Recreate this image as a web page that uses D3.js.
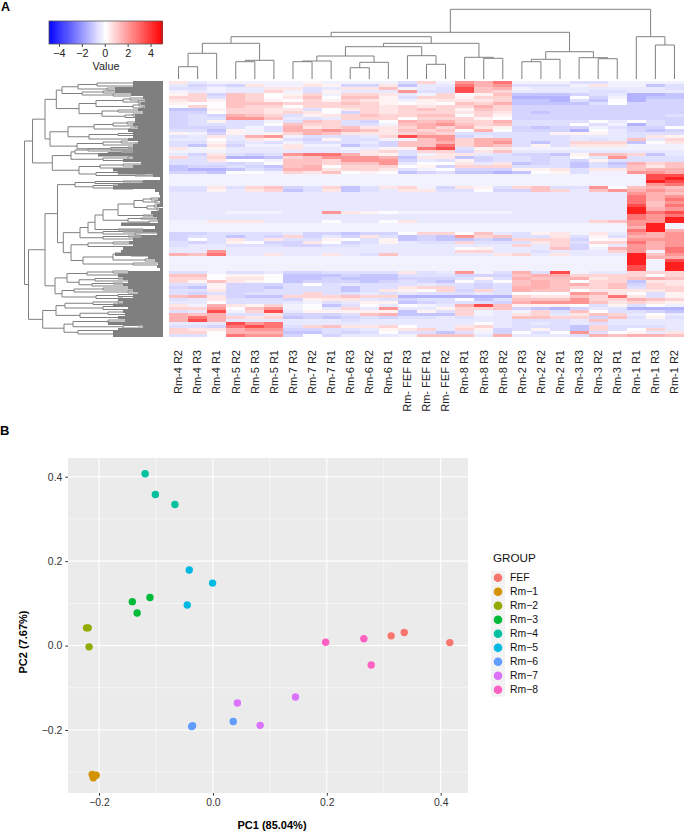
<!DOCTYPE html>
<html>
<head>
<meta charset="utf-8">
<script src="https://cdn.jsdelivr.net/npm/d3@7"></script>
<style>
html,body{margin:0;padding:0;background:#fff;}
svg{display:block;font-family:"Liberation Sans",Arial,sans-serif;}
</style>
</head>
<body>
<div id="chart"></div>
<script>
// ---------- Panel A data ----------
const columnLabels = ["Rm-4 R2","Rm-4 R3","Rm-4 R1","Rm-5 R2","Rm-5 R3","Rm-5 R1","Rm-7 R3","Rm-7 R2","Rm-7 R1","Rm-6 R3","Rm-6 R2","Rm-6 R1","Rm- FEF R3","Rm- FEF R1","Rm- FEF R2","Rm-8 R1","Rm-8 R3","Rm-8 R2","Rm-2 R3","Rm-2 R2","Rm-2 R1","Rm-3 R3","Rm-3 R2","Rm-3 R1","Rm-1 R1","Rm-1 R3","Rm-1 R2"];
const levelCodes  = ["n","m","l","k","j","i","0","1","2","3","4","5","6","7","8","9"];
const levelValues = [-1.5,-1.15,-0.85,-0.62,-0.45,-0.25,-0.03,0.25,0.5,0.85,1.2,1.55,2.05,2.7,3.5,4.4];
const heatRows = [
"2ji iii i1i iii k3i 657 iii kki iii",
"jlk l2i i21 ll2 mjj 756 kkk i2i imk",
"kki jj2 2kj 224 ijk 845 ijj jjj jjk",
"iji jj3 ik1 jjj 6kk 843 jjj jkk jjj",
"13l 430 13i 332 ji3 014 mmm lkj nnm",
"33k 430 240 441 k33 133 nnn 0li nmm",
"231 431 031 321 i12 223 mmn km0 nll",
"100 444 333 431 010 435 mmm mk0 lll",
"030 433 033 332 323 353 lll lll lll",
"mm1 332 2k0 232 343 143 lll lll lll",
"ll0 332 320 l32 333 232 lml lll lll",
"lkl 543 k12 343 344 031 lll lll llk",
"lkk 664 jkj 333 033 310 lll lll lll",
"lk1 kki k43 kl0 545 335 kkk k0j 0kl",
"lkk kk0 433 kki 456 434 kkk 0ki nkl",
"lll kik 523 422 353 521 lml lik ll0",
"kkm 1ik 556 542 434 050 lll n0j lml",
"1il 1i1 354 222 343 kkk kk1 11j kkk",
"kj2 j56 ikk kj3 866 ljk kkk jjj k21",
"jj0 j21 kl1 kki i46 355 kkk jkj 4j3",
"kk1 kjk ikk kjl 445 356 kmk 333 m02",
"km2 lii 2ii mkl 447 354 k1k 222 iii",
"2i1 jjj 2jj ij1 178 k12 iii iii iii",
"iii jjj jjj j23 k33 l24 jjj jjj jjj",
"jl2 klk 677 521 ki2 2jk llm 144 3mj",
"3k3 nnm 346 665 m22 mlk klk 0j6 kkk",
"kk2 00i 443 666 ljk 1lk klk l1k kkk",
"kkk lk0 443 446 j00 2j2 mlk mkm 534",
"mll klm 450 333 01l 333 kkk mkl 424",
"mnn mkl 552 332 ki0 lll 112 k22 455",
"llm 00i 324 010 mlk mmn m01 kii 665",
"iii iii iii iii iii iii iii iii i88",
"iii iii iii iii iii iii iii iii i89",
"iii iii iii iii iii iii iii iii i98",
"iii iii iii iii iii iii iii iii i67",
"kk2 k34 lk3 mk2 3il 21k 34k k60 454",
"kk1 j23 mk2 mkj 22k k0l l43 j46 565",
"jjj jjj jjj jjj jjj jjj jjj jjj 654",
"jjj jjj jjj jjj jjj jjj jjj jjj 756",
"jjj jjj jjj jjj jjj jjj jjj jjj 757",
"jjj jjj jjj jjj jjj jjj jjj jjj 746",
"jjj jjj jjj jjj jjj jjj jjj jjj 847",
"jjj jjj jjj jjj jjj jjj jjj jjj 956",
"jjj iii jj6 210 iii iii jjj jjj 978",
"jjj jjj jjj jjj jjj jjj jjj jjj 767",
"jjj jjj jjj jjj jjj jjj jjj jjj 769",
"ii2 22j jj0 jj0 2jj jjj jjj j34 669",
"iii iii iii iii iii iii iii iii 69i",
"iii iii iii iii iii iii iii iii 59i",
"iii iii iii iii iii iii iii iii 795",
"llk kkk jll mll 033 04j k12 i2j 656",
"lkk mkl 3lj l2k mlm 634 kk2 k1k 556",
"l0k 2k2 kk1 0k1 mlm mlm 333 l01 666",
"klk 10l l20 lk1 jkk 3kk k23 k33 756",
"kjj kkk llk kjj jjj jjj 3j3 l0j 656",
"jjj jjj jjj jjj jjj 01j jj4 li5 657",
"jj6 jjj jjj jjj jjj 33j jkj jj3 6i7",
"547 jj2 jj2 jk4 jjj jj2 3j2 jjj 946",
"iii iii iii iii iii iii iii iii 955",
"iii iii iii iii iii iii iii iii 9i8",
"iii iii iii iii iii iii iii iii 9i9",
"iii iii iii iii iii iii iii iii 8i9",
"iii iii iii iii iii iii iii iii 8i9",
"kki kkj llk kkk 2kj 6ik 5k8 ijj 333",
"440 110 mmm lmm kkk lll 455 333 303",
"330 220 mml mmm lll k1k 544 523 454",
"314 210 mll lml klm 0k0 454 033 m22",
"kk1 lll k0k jkk kjk klk 454 534 l32",
"lm1 llm kkk mkk 233 klk 554 334 k33",
"kk2 llk kkk mk2 103 l3k 544 022 223",
"klk lkk k3k kjk jkk kjk 000 652 0k1",
"452 lmm 333 433 nnn nnn 322 437 2k1",
"kj2 kkk l12 2jk lkk 0mk 444 633 543",
"jj0 kkk jik j11 mlk kkl 566 642 321",
"2i5 213 i0m k0j 0ij 584 111 0k1 k0i",
"336 046 i0j 3j6 jj1 334 lmn ljk nnn",
"kj8 i38 j11 111 m1k 3ij i3k 40k klm",
"545 kk2 lll k45 mmm 3ij 23j 243 j0j",
"575 323 mlm lkl kkj kjj 443 3l4 k1k",
"585 jjj jjj kjj jjj jjj kkk j4j jjj",
"jjj 867 jjj jjj jjj j0j kjk jkj jjj",
"kkl 787 k34 223 0jj 23j kkk m3k kkj",
"322 566 llk kj1 23j 31l k1k m3k 03j",
"330 555 mmk lk0 kkm kil 0k0 6k0 1j2",
"kk0 766 l0l jjj i44 4j5 jjj k54 554"
];
// Column dendrogram: [merge height, left, right]; a number is a column index
const columnTree =
 [69.7,
  [46.7,
   [42.3,
    [35.7, [25.7,[12.3,0,1],2], [18.7,[17.3,3,4],5]],
    [35.7,
     [32.3,
      [23, [18,[17.3,6,7],8], [16.7,[11.3,9,10],11]],
      [23.3,12,[14.7,13,14]]],
     [21.7,15,[20.7,16,17]]]],
   [27.3, [19.7,[17.3,18,19],20], [21.3,21,[20.3,22,23]]]],
  [42.3,24,[34,25,26]]];
// Row dendrogram: [merge height, upper, lower]; a number is a leaf position
const rowTree =
 [138.5,
  [130.5,
   [118,
    [106.7,
     [101,[85,[66,2,5],[56,7,9]],[81,[60,10,12],[50,13,15]]],
     [84,
      [67,[40,[33,17,19],[25,20,22]],[30,[24,23,25],[20,26,28]]],
      [61,[45,29,31],[38,[30,33,35],[22,36,37]]]]],
    [113,
     [95,[69,[50,[36,41,43],[28,44,46]],[33,47,49]],[74,[45,[30,52,53],[22,54,55]],[20,57,59]]],
     [86,[60,[42,60,62],[28,63,65]],[52,[35,66,67],[20,68,70]]]]],
   [110.7,
    [92,[88,[75,68,70],[55,[42,71,72],[30,73,75]]],[60,[35,76,78],[25,79,80]]],
    [84,[63,[40,83,85],[22,86,88]],[67,[45,[30,90,91],[18,92,93]],[28,94,95]]]]],
  [134.5,
   [118,
    [105.5,
     [88,[68,[40,100,101],[22,102,103]],[70,[50,104,105],[30,106,108]]],
     [99.7,
      [83,
       [75,
        [68,
         [60,
          [45,[29,[20,[12,117,119],[8,120,122]],[16,[9,124,126],[6,127,129]]],[20,134,135]],
          [35,[22,137,138],[14,140,142]]],
         [45,148,149]],
        [60,[40,150,151],[28,152,154]]],
       [60,[35,155,156],[20,157,159]]],
      [92,
       [75,[50,161,163],[30,165,166]],
       [80,[50,[32,[20,170,172],[12,174,176]],[18,178,180]],[30,182,184]]]]],
    [108,
     [96,
      [76,[50,190,192],[30,193,195]],
      [84,[68,[45,197,198],[28,199,201]],[71,[50,202,203],[25,204,206]]]],
     [101,
      [89,[60,207,209],[35,210,212]],
      [67,[45,[25,213,214],[15,215,216]],[40,217,218]]]]],
   [120.3,
    [107,
     [98,[70,[45,220,222],[25,223,224]],[60,[35,225,226],[20,228,229]]],
     [83,[55,[30,230,232],[18,233,234]],[40,236,237]]],
    [99,
     [90,[55,[30,238,240],[20,241,243]],[40,[25,244,245],[15,246,248]]],
     [85,[40,249,250],[30,252,254]]]]]];
// Depth of the dense leaf band beside each heat-map row
const rowLeafDepth = [30,30,48,48,32,20,18,22,18,25,20,28,28,28,30,25,35,30,30,35,25,30,30,30,65,30,40,22,30,50,45,10,3,20,45,50,8,4,3,5,3,6,4,12,10,6,5,42,8,20,6,22,30,34,30,40,42,48,15,8,5,6,3,35,45,40,35,40,35,30,25,30,45,40,50,35,40,38,45,38,55,20,45,50,50];
const colorbarTicks = [-4,-2,0,2,4];

// ---------- Panel B data ----------
const groups = ["FEF","Rm\u22121","Rm\u22122","Rm\u22123","Rm\u22124","Rm\u22125","Rm\u22126","Rm\u22127","Rm\u22128"];
const groupColors = ["#F8766D","#D39200","#93AA00","#00BA38","#00C19F","#00B9E3","#619CFF","#DB72FB","#FF61C3"];
const pc1 = [
 [0.313,0.336,0.416],
 [-0.212,-0.205,-0.210],
 [-0.222,-0.219,-0.2175],
 [-0.1415,-0.1105,-0.133],
 [-0.119,-0.101,-0.0667],
 [-0.0415,-0.0006,-0.045],
 [-0.0357,-0.0374,0.0357],
 [0.043,0.083,0.145],
 [0.198,0.265,0.278]];
const pc2 = [
 [0.023,0.031,0.007],
 [-0.305,-0.307,-0.313],
 [0.042,0.042,-0.003],
 [0.104,0.114,0.077],
 [0.407,0.358,0.334],
 [0.179,0.148,0.096],
 [-0.190,-0.192,-0.180],
 [-0.136,-0.189,-0.122],
 [0.008,0.016,-0.046]];
const majorTicksX = [-0.2,0,0.2,0.4];
const minorTicksX = [-0.1,0.1,0.3];
const majorTicksY = [-0.2,0,0.2,0.4];
const minorTicksY = [-0.3,-0.1,0.1,0.3];

// ---------- Drawing ----------
const svg = d3.select("#chart").append("svg").attr("width",685).attr("height",832);
const treeStroke = "#808080";

svg.append("text").attr("x",1).attr("y",11).attr("font-size",12.5).attr("font-weight","bold").text("A");
svg.append("text").attr("x",0).attr("y",435).attr("font-size",13).attr("font-weight","bold").text("B");

// Heat map
const heatColor = d3.scaleLinear().domain([-5,0,5]).range(["#0000ff","#ffffff","#ff0000"]);
const decode = Object.fromEntries(levelCodes.map((c,i)=>[c,levelValues[i]]));
const matrix = heatRows.map(r=>r.replace(/ /g,"").split("").map(c=>decode[c]));
const colX = d3.scaleBand().domain(d3.range(columnLabels.length)).range([169,684]);
const rowY = d3.scaleBand().domain(d3.range(matrix.length)).range([81,337]);
const cellData = matrix.flatMap((row,r)=>row.map((v,c)=>({r,c,v})));
svg.append("g").attr("shape-rendering","crispEdges").selectAll("rect").data(cellData).join("rect")
  .attr("x",d=>colX(d.c)).attr("y",d=>rowY(d.r))
  .attr("width",colX.bandwidth()+0.4).attr("height",rowY.bandwidth()+0.4)
  .attr("fill",d=>heatColor(d.v));

// Column labels
svg.append("g").selectAll("text").data(columnLabels).join("text")
  .attr("transform",(d,i)=>`translate(${colX(i)+colX.bandwidth()/2+3.8},350) rotate(-90)`)
  .attr("text-anchor","end").attr("font-size",11).attr("fill","#222").text(d=>d);

// Column dendrogram
const colHeight = d3.scaleLinear().domain([0,69.7]).range([79,9.3]);
const colTreeG = svg.append("g").attr("fill","none").attr("stroke",treeStroke).attr("stroke-width",1);
function drawColTree(n){
  if (typeof n === "number") return {x:colX(n)+colX.bandwidth()/2, h:0};
  const a = drawColTree(n[1]), b = drawColTree(n[2]);
  const y = colHeight(n[0]);
  const p = d3.path();
  p.moveTo(a.x,colHeight(a.h)); p.lineTo(a.x,y); p.lineTo(b.x,y); p.lineTo(b.x,colHeight(b.h));
  colTreeG.append("path").attr("d",p.toString());
  return {x:(a.x+b.x)/2, h:n[0]};
}
drawColTree(columnTree);

// Row dendrogram
const rowDepth = d3.scaleLinear().domain([0,138.5]).range([163,24.5]);
const rowPos = d3.scaleLinear().domain([0,256]).range([81,337]);
const leafG = svg.append("g").attr("shape-rendering","crispEdges");
leafG.selectAll("line").data(rowLeafDepth).join("line")
  .attr("x1",d=>rowDepth(d)).attr("x2",rowDepth(0))
  .attr("y1",(d,i)=>rowY(i)+rowY.bandwidth()/2).attr("y2",(d,i)=>rowY(i)+rowY.bandwidth()/2)
  .attr("stroke","#7f7f7f").attr("stroke-width",3);
const rowTreeG = svg.append("g").attr("fill","none").attr("stroke",treeStroke).attr("stroke-width",1);
function leafEnd(pos){
  const i = Math.min(rowLeafDepth.length-1, Math.max(0, Math.floor(pos/256*rowLeafDepth.length)));
  return rowLeafDepth[i];
}
function drawRowTree(n){
  if (typeof n === "number") return {y:rowPos(n), h:leafEnd(n)};
  const a = drawRowTree(n[1]), b = drawRowTree(n[2]);
  const x = rowDepth(n[0]);
  const p = d3.path();
  p.moveTo(rowDepth(a.h),a.y); p.lineTo(x,a.y); p.lineTo(x,b.y); p.lineTo(rowDepth(b.h),b.y);
  rowTreeG.append("path").attr("d",p.toString());
  return {y:(a.y+b.y)/2, h:n[0]};
}
drawRowTree(rowTree);

// Colour key
const keyX = d3.scaleLinear().domain([-4.87,5]).range([49,162]);
const keyStops = d3.range(-4.87,5,0.09);
const keyG = svg.append("g");
keyG.selectAll("rect").data(keyStops).join("rect")
  .attr("x",d=>keyX(d)).attr("y",21).attr("width",1.6).attr("height",23)
  .attr("fill",d=>heatColor(d)).attr("shape-rendering","crispEdges");
keyG.append("rect").attr("x",49).attr("y",21).attr("width",113).attr("height",23)
  .attr("fill","none").attr("stroke","#555").attr("stroke-width",0.8);
const keyAxis = svg.append("g").attr("transform","translate(0,44)")
  .call(d3.axisBottom(keyX).tickValues(colorbarTicks).tickSize(3).tickPadding(2).tickFormat(d3.format("d")));
keyAxis.select(".domain").remove();
keyAxis.selectAll("text").attr("font-size",10.8).attr("fill","#222").attr("font-family","Liberation Sans");
keyAxis.selectAll("line").attr("stroke","#444");
svg.append("text").attr("x",106).attr("y",70).attr("text-anchor","middle").attr("font-size",10.8).attr("fill","#222").text("Value");

// PCA panel
const px = d3.scaleLinear().domain([-0.2,0.4]).range([99,440.7]);
const py = d3.scaleLinear().domain([-0.2,0.4]).range([730,476.7]);
const panel = {l:68,r:468,t:458,b:793};
svg.append("rect").attr("x",panel.l).attr("y",panel.t).attr("width",panel.r-panel.l).attr("height",panel.b-panel.t).attr("fill","#EBEBEB");
const gridG = svg.append("g").attr("stroke","#fff");
gridG.selectAll(".minx").data(minorTicksX).join("line").attr("class","minx")
  .attr("x1",d=>px(d)).attr("x2",d=>px(d)).attr("y1",panel.t).attr("y2",panel.b).attr("stroke-width",0.55);
gridG.selectAll(".miny").data(minorTicksY).join("line").attr("class","miny")
  .attr("y1",d=>py(d)).attr("y2",d=>py(d)).attr("x1",panel.l).attr("x2",panel.r).attr("stroke-width",0.55);
gridG.selectAll(".majx").data(majorTicksX).join("line").attr("class","majx")
  .attr("x1",d=>px(d)).attr("x2",d=>px(d)).attr("y1",panel.t).attr("y2",panel.b).attr("stroke-width",1.1);
gridG.selectAll(".majy").data(majorTicksY).join("line").attr("class","majy")
  .attr("y1",d=>py(d)).attr("y2",d=>py(d)).attr("x1",panel.l).attr("x2",panel.r).attr("stroke-width",1.1);

const points = groups.flatMap((g,i)=>pc1[i].map((v,j)=>({g:i,x:v,y:pc2[i][j]})));
svg.append("g").selectAll("circle").data(points).join("circle")
  .attr("cx",d=>px(d.x)).attr("cy",d=>py(d.y)).attr("r",3.7).attr("fill",d=>groupColors[d.g]);

const fmt = d3.format(".1f");
const xAxis = svg.append("g").attr("transform",`translate(0,${panel.b})`)
  .call(d3.axisBottom(px).tickValues(majorTicksX).tickFormat(fmt).tickSize(2.7).tickPadding(3));
const yAxis = svg.append("g").attr("transform",`translate(${panel.l},0)`)
  .call(d3.axisLeft(py).tickValues(majorTicksY).tickFormat(fmt).tickSize(2.7).tickPadding(3));
[xAxis,yAxis].forEach(a=>{
  a.select(".domain").remove();
  a.selectAll("text").attr("font-size",10.4).attr("fill","#333").attr("font-family","Liberation Sans");
  a.selectAll("line").attr("stroke","#333");
});
svg.append("text").attr("x",272).attr("y",829).attr("text-anchor","middle").attr("font-size",11).attr("font-weight","bold").text("PC1 (85.04%)");
svg.append("text").attr("transform","translate(27,642) rotate(-90)").attr("text-anchor","middle").attr("font-size",11).attr("font-weight","bold").text("PC2 (7.67%)");

// Legend
svg.append("text").attr("x",493).attr("y",562).attr("font-size",11.7).attr("fill","#111").text("GROUP");
const legendY = d3.scaleBand().domain(groups).range([570.7,696.7]);
const legend = svg.append("g").selectAll("g").data(groups).join("g")
  .attr("transform",d=>`translate(0,${legendY(d)})`);
legend.append("rect").attr("x",491).attr("width",14).attr("height",legendY.bandwidth()).attr("fill","#F2F2F2");
legend.append("circle").attr("cx",498).attr("cy",legendY.bandwidth()/2).attr("r",4.3).attr("fill",(d,i)=>groupColors[i]);
legend.append("text").attr("x",510).attr("y",legendY.bandwidth()/2+3.7).attr("font-size",10.4).attr("fill","#111").text(d=>d);
</script>
</body>
</html>
